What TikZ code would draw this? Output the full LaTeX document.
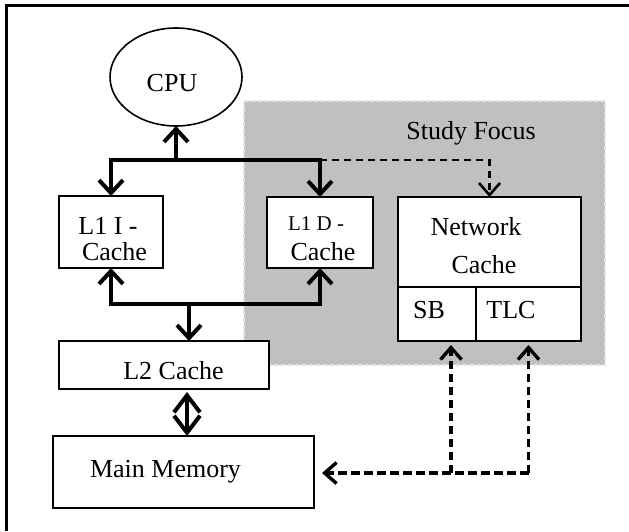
\documentclass[tikz,border=0pt]{standalone}
\usepackage{fontspec}
\setmainfont{Liberation Serif}
\usetikzlibrary{arrows.meta,calc,shapes.geometric}
\definecolor{focusgray}{RGB}{192,192,192}
\definecolor{focusedge}{RGB}{228,228,228}
\begin{document}
\begin{tikzpicture}[x=1pt,y=-1pt,
  box/.style={draw, line width=1.6pt, fill=white, inner sep=0pt, outer sep=0pt},
  lbl/.style={font=\fontsize{26}{26}\selectfont, inner sep=0pt, anchor=base},
  smalllbl/.style={font=\fontsize{21}{21}\selectfont, inner sep=0pt, anchor=base},
  bus/.style={line width=4pt, line join=miter},
  arr/.style={bus, -{Straight Barb[length=13pt,width=24pt]}},
  dblarr/.style={bus, {Straight Barb[length=17pt,width=26pt]}-{Straight Barb[length=17pt,width=26pt]}},
  dbus/.style={line width=2.6pt, dash pattern=on 7pt off 5pt},
  dline/.style={line width=3.4pt, dash pattern=on 8.5pt off 4.5pt},
  darr/.style={-{Straight Barb[length=12pt,width=21pt]}}
]
\useasboundingbox (0,0) rectangle (629,531);

% outer frame
\draw[line width=3pt] (629,5.5) -- (6.5,5.5) -- (6.5,531);

% shaded study-focus region
\fill[focusgray] (244,101) rectangle (605,365);
\draw[focusedge, line width=1.4pt, dash pattern=on 4pt off 3pt] (244,101) rectangle (605,365);
\node[lbl] (focus) at (471,139) {Study Focus};

% components
\node[draw, line width=1.6pt, ellipse, inner sep=0pt, outer sep=0pt,
      minimum width=132pt, minimum height=98pt] (cpu) at (176,77) {};
\node[lbl] (cputxt) at (172,91) {CPU};

\node[box, minimum width=104pt, minimum height=72pt] (l1i) at (111,232) {};
\node[lbl] (l1itxt) at (108,234.5) {L1 I -};
\node[lbl] (l1itxtb) at (114.5,260.5) {Cache};

\node[box, minimum width=106pt, minimum height=71pt] (l1d) at (320,232.5) {};
\node[smalllbl] (l1dtxt) at (316,230) {L1 D -};
\node[lbl] (l1dtxtb) at (323,260) {Cache};

\node[box, minimum width=183pt, minimum height=90pt] (nc) at (489.5,242) {};
\node[lbl] (nctxt) at (476,235) {Network};
\node[lbl] (nctxtb) at (484,273) {Cache};
\node[box, minimum width=78pt, minimum height=54pt] (sb) at (437,314) {};
\node[box, minimum width=105pt, minimum height=54pt] (tlc) at (528.5,314) {};
\node[lbl] (sbtxt) at (429,318) {SB};
\node[lbl] (tlctxt) at (511,318) {TLC};

\node[box, minimum width=210pt, minimum height=48pt] (l2) at (164,365) {};
\node[lbl] (l2txt) at (173.5,379) {L2 Cache};

\node[box, minimum width=261pt, minimum height=72pt] (mem) at (183.5,472) {};
\node[lbl] (memtxt) at (165.5,477) {Main Memory};

% upper bus: CPU to the L1 caches and the network cache
\coordinate (top) at (176,160);
\draw[arr] (top) -- (cpu.south);
\draw[arr] (top) -| (l1i.north);
\draw[arr] (top) -| (l1d.north);
\draw[dbus, darr] (l1d.north |- top) -| (nc.north);

% lower bus: L1 caches to L2
\coordinate (low) at (189,304);
\draw[arr] (low) -| (l1i.south);
\draw[arr] (low) -| (l1d.south);
\draw[arr] (low) -- (l2.north -| low);

% L2 to main memory
\coordinate (link) at (187,0);
\draw[dblarr] ([yshift=-3pt]l2.south -| link) -- (mem.north -| link);

% network cache buffers to main memory
\coordinate (sbj) at (451,473);
\coordinate (tlcj) at (tlc.south |- sbj);
\draw[dline, darr, shorten >=4pt] (sbj) -- (sb.south -| sbj);
\draw[dline, darr, shorten >=4pt] (tlcj) -- (tlc.south);
\draw[dline, darr, shorten >=8pt] (tlcj) -- (mem.east |- sbj);
\end{tikzpicture}
\end{document}
